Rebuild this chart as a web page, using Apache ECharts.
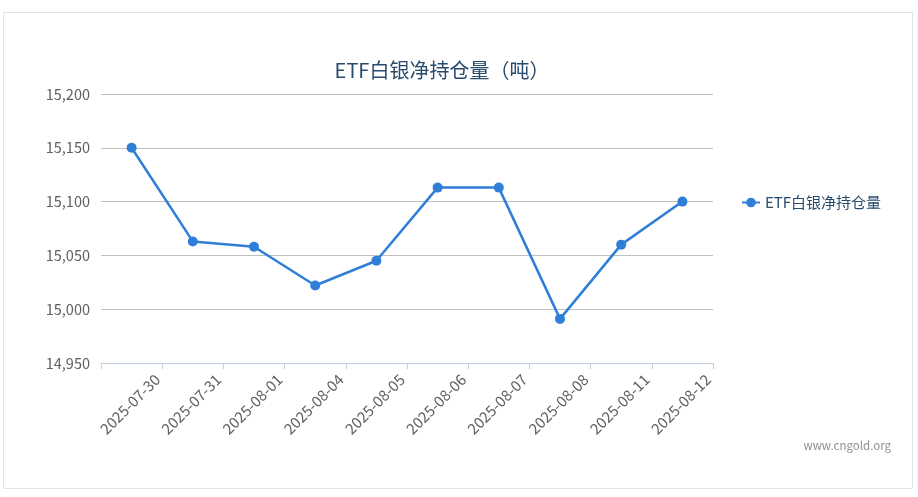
<!DOCTYPE html>
<html><head><meta charset="utf-8">
<script src="https://cdn.jsdelivr.net/npm/echarts@6/dist/echarts.min.js"></script>
<style>html,body{margin:0;padding:0;background:#fff}#c{width:918px;height:497px}</style>
</head><body><div id="c"></div>
<script>
const categories = ['2025-07-30','2025-07-31','2025-08-01','2025-08-04','2025-08-05','2025-08-06','2025-08-07','2025-08-08','2025-08-11','2025-08-12'];
const holdings = [15150, 15063, 15058, 15022, 15045, 15113, 15113, 14991, 15060, 15100];
const seriesName = 'ETF白银净持仓量';
const titleText = 'ETF白银净持仓量（吨）';
const fontFam = '"Microsoft YaHei","Noto Sans CJK SC","Open Sans",sans-serif';

const chart = echarts.init(document.getElementById('c'), null, {renderer:'canvas'});
chart.setOption({
  animation:false,
  backgroundColor:'#fff',
  title:{text:titleText, left:437, textAlign:'center', top:55,
    textStyle:{fontSize:20, fontWeight:'normal', color:'#274b6d', fontFamily:fontFam}},
  legend:{data:[seriesName], left:736, top:190, itemWidth:18, itemHeight:12, itemGap:10,
    textStyle:{fontSize:15, color:'#274b6d', fontFamily:fontFam, padding:[0,0,0,0]}},
  grid:{left:101, right:205, top:94, bottom:134, containLabel:false},
  xAxis:[{
    type:'category', data:categories, boundaryGap:true,
    axisLine:{show:true, lineStyle:{color:'#C0D0E0', width:1}},
    axisTick:{show:false}, axisLabel:{show:false}, splitLine:{show:false}
  },{
    type:'category', data:[''].concat(categories), boundaryGap:false, position:'bottom',
    axisLine:{show:false},
    axisTick:{show:true, length:6, interval:0, lineStyle:{color:'#C0D0E0'}},
    axisLabel:{show:true, interval:0, rotate:45, margin:9, padding:[0,7,0,0], fontSize:15, color:'#606060', fontFamily:fontFam},
    splitLine:{show:false}
  }],
  yAxis:{type:'value', min:14950, max:15200, interval:50,
    axisLine:{show:false}, axisTick:{show:false},
    axisLabel:{margin:11, fontSize:14.5, color:'#606060', fontFamily:fontFam,
      formatter:v=>v.toLocaleString('en-US')},
    splitLine:{lineStyle:{color:'#C0C0C0', width:1}}},
  series:[{name:seriesName, type:'line', xAxisIndex:0, data:holdings,
    symbol:'circle', symbolSize:10, lineStyle:{width:2.5, color:'#2f7ed8'},
    itemStyle:{color:'#2f7ed8'}}],
  graphic:[
    {type:'rect', shape:{x:3.5, y:12.5, width:909, height:476}, silent:true, z:-10,
      style:{fill:'none', stroke:'#E4E4E4', lineWidth:1}},
    {type:'text', right:27, top:440, silent:true,
      style:{text:'www.cngold.org', fill:'#909090', fontSize:11.5, fontFamily:fontFam}}
  ]
});
</script></body></html>
